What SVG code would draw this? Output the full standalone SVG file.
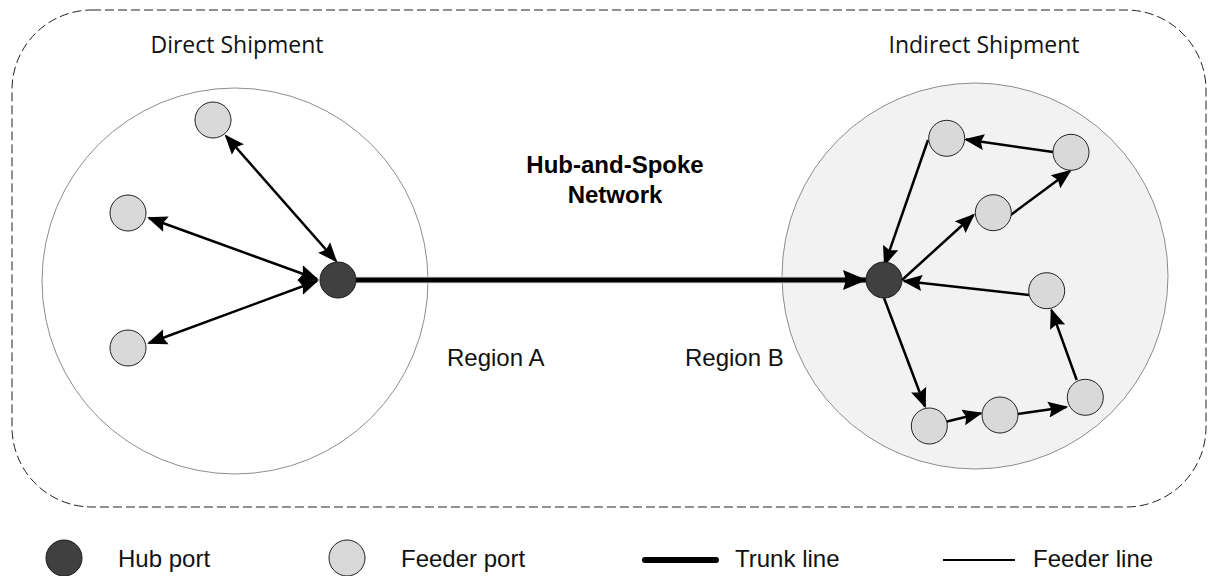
<svg xmlns="http://www.w3.org/2000/svg" width="1208" height="576" viewBox="0 0 1208 576">
  <style>
    .label { font-family: "Liberation Sans", Arial, sans-serif; font-size: 24px; fill: #111; }
    .title { font-family: "Open Sans", "Liberation Sans", sans-serif; font-size: 23px; fill: #111; }
    .bold { font-family: "Liberation Sans", Arial, sans-serif; font-size: 24px; font-weight: bold; fill: #000; }
    .hub { fill: #404040; stroke: #1a1a1a; stroke-width: 1; }
    .feeder { fill: #d9d9d9; stroke: #222; stroke-width: 1; }
    .region { stroke: #808080; stroke-width: 0.9; }
    .feed { stroke: #000; stroke-width: 2.5; fill: none; }
    .trunk { stroke: #000; stroke-width: 5; fill: none; }
  </style>
  <defs>
    <marker id="arrow" markerUnits="userSpaceOnUse" markerWidth="22" markerHeight="18" viewBox="0 -9 22 18" refX="18" refY="0" orient="auto-start-reverse">
      <path d="M0,-8 L20,0 L0,8 L3,0 Z" fill="#000"/>
    </marker>
    <marker id="trunkArrow" markerUnits="userSpaceOnUse" markerWidth="26" markerHeight="24" viewBox="0 -12 26 24" refX="23" refY="0" orient="auto">
      <path d="M0,-10 L24,0 L0,10 L3,0 Z" fill="#000"/>
    </marker>
  </defs>

  <!-- overall network boundary -->
  <rect x="12" y="10" width="1194" height="497" rx="80" ry="80" fill="none" stroke="#222" stroke-width="1" stroke-dasharray="9 4"/>

  <!-- regional areas -->
  <g id="region-a">
    <circle class="region" cx="235" cy="281" r="193" fill="none"/>
  </g>
  <g id="region-b">
    <circle class="region" cx="975" cy="276" r="193" fill="#f2f2f2"/>
  </g>

  <!-- labels -->
  <text class="title" x="237" y="53" text-anchor="middle">Direct Shipment</text>
  <text class="title" x="984" y="53" text-anchor="middle">Indirect Shipment</text>
  <text class="bold" x="615" y="173" text-anchor="middle">Hub-and-Spoke</text>
  <text class="bold" x="615" y="203" text-anchor="middle">Network</text>
  <text class="label" x="447" y="366">Region A</text>
  <text class="label" x="685" y="366">Region B</text>

  <!-- connectors -->
  <g id="connectors">
    <!-- trunk line between the two hubs -->
    <line x1="356" y1="280" x2="866" y2="280" stroke="#e2e2e2" stroke-width="7"/>
    <line class="trunk" x1="356" y1="280" x2="866" y2="280" marker-end="url(#trunkArrow)"/>
    <!-- direct shipment: two-way feeder lines -->
    <line class="feed" x1="226" y1="136" x2="336" y2="261" marker-start="url(#arrow)" marker-end="url(#arrow)"/>
    <line class="feed" x1="149" y1="218" x2="317" y2="279" marker-start="url(#arrow)" marker-end="url(#arrow)"/>
    <line class="feed" x1="149" y1="343" x2="317" y2="281" marker-start="url(#arrow)" marker-end="url(#arrow)"/>
    <!-- indirect shipment: feeder loops -->
    <line class="feed" x1="1053" y1="152" x2="966" y2="139.6" marker-end="url(#arrow)"/>
    <line class="feed" x1="928" y1="140" x2="884.7" y2="264.5" marker-end="url(#arrow)"/>
    <line class="feed" x1="902" y1="280" x2="973.5" y2="215" marker-end="url(#arrow)"/>
    <line class="feed" x1="1010.7" y1="215" x2="1070" y2="171" marker-end="url(#arrow)"/>
    <line class="feed" x1="1029" y1="295" x2="904" y2="281" marker-end="url(#arrow)"/>
    <line class="feed" x1="884" y1="298" x2="925" y2="406.5" marker-end="url(#arrow)"/>
    <line class="feed" x1="945" y1="422" x2="980.8" y2="413.2" marker-end="url(#arrow)"/>
    <line class="feed" x1="1017.5" y1="414" x2="1066.3" y2="407" marker-end="url(#arrow)"/>
    <line class="feed" x1="1076.7" y1="380" x2="1051.5" y2="310.2" marker-end="url(#arrow)"/>
  </g>

  <!-- hub ports -->
  <g id="hub-a"><circle class="hub" cx="338" cy="280" r="18"/></g>
  <g id="hub-b"><circle class="hub" cx="884" cy="280" r="18"/></g>

  <!-- feeder ports, region A -->
  <g id="feeder-a1"><circle class="feeder" cx="213" cy="120" r="18"/></g>
  <g id="feeder-a2"><circle class="feeder" cx="128" cy="213" r="18"/></g>
  <g id="feeder-a3"><circle class="feeder" cx="128" cy="348" r="18"/></g>

  <!-- feeder ports, region B -->
  <g id="feeder-b1"><circle class="feeder" cx="946.7" cy="138.3" r="18"/></g>
  <g id="feeder-b2"><circle class="feeder" cx="1071" cy="152.3" r="18"/></g>
  <g id="feeder-b3"><circle class="feeder" cx="993.3" cy="212.7" r="18"/></g>
  <g id="feeder-b4"><circle class="feeder" cx="1046.7" cy="290.7" r="18"/></g>
  <g id="feeder-b5"><circle class="feeder" cx="1085.3" cy="397.3" r="18"/></g>
  <g id="feeder-b6"><circle class="feeder" cx="1000" cy="415" r="18"/></g>
  <g id="feeder-b7"><circle class="feeder" cx="929.3" cy="426" r="18"/></g>

  <!-- legend -->
  <g id="legend">
    <circle class="hub" cx="64" cy="558" r="18"/>
    <text class="label" x="118" y="567">Hub port</text>
    <circle class="feeder" cx="347" cy="558" r="18"/>
    <text class="label" x="401" y="567">Feeder port</text>
    <line x1="645" y1="560" x2="716" y2="560" stroke="#000" stroke-width="6" stroke-linecap="round"/>
    <text class="label" x="735" y="567">Trunk line</text>
    <line x1="943" y1="560" x2="1015" y2="560" stroke="#000" stroke-width="2"/>
    <text class="label" x="1033" y="567">Feeder line</text>
  </g>
</svg>
